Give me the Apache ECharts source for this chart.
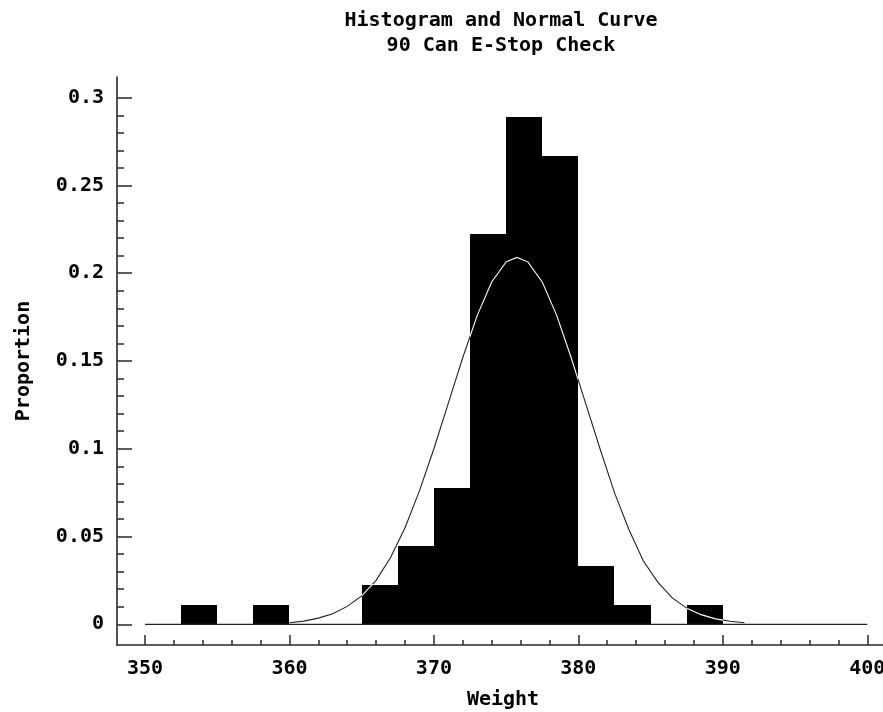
<!DOCTYPE html>
<html><head><meta charset="utf-8">
<script src="https://cdn.jsdelivr.net/npm/echarts@6/dist/echarts.min.js"></script>
<style>html,body{margin:0;padding:0;background:#fff}#c{width:883px;height:712px}</style>
</head><body><div id="c"></div>
<script>
// Histogram bins (Weight) and proportions
const binLow  = [352.5, 357.5, 365, 367.5, 370, 372.5, 375, 377.5, 380, 382.5, 387.5];
const binHigh = [355, 360, 367.5, 370, 372.5, 375, 377.5, 380, 382.5, 385, 390];
const proportion = [0.0111, 0.0111, 0.0222, 0.0444, 0.0778, 0.2222, 0.2889, 0.2667, 0.0333, 0.0111, 0.0111];

// Normal curve
const curveX = [360, 361, 362, 363, 364, 365, 366, 367, 368, 369, 370, 371, 372, 373, 374, 375, 375.75,
                376.5, 377.5, 378.5, 379.5, 380.5, 381.5, 382.5, 383.5, 384.5, 385.5, 386.5, 387.5, 388.5, 389.5, 390.5, 391.5];
const curveY = [0.0009, 0.0018, 0.0035, 0.006, 0.0102, 0.0162, 0.025, 0.038, 0.055, 0.076, 0.1, 0.126, 0.152, 0.176, 0.195, 0.2065, 0.209,
                0.2065, 0.195, 0.176, 0.152, 0.126, 0.1, 0.075, 0.054, 0.036, 0.024, 0.015, 0.0092, 0.0055, 0.0031, 0.0017, 0.0009];

// Axis ticks
const xMajorTicks = [350, 360, 370, 380, 390, 400];
const xMinorTicks = [352, 354, 356, 358, 362, 364, 366, 368, 372, 374, 376, 378, 382, 384, 386, 388, 392, 394, 396, 398];
const yMajorTicks = [0, 0.05, 0.1, 0.15, 0.2, 0.25, 0.3];
const yMinorTicks = [0.01, 0.02, 0.03, 0.04, 0.06, 0.07, 0.08, 0.09, 0.11, 0.12, 0.13, 0.14, 0.16, 0.17, 0.18, 0.19,
                     0.21, 0.22, 0.23, 0.24, 0.26, 0.27, 0.28, 0.29];
const baselineX = [350, 400];

const FONT = 'DejaVu Sans Mono';
const txt = {fontFamily: FONT, fontSize: 20, fontWeight: 'bold', color: '#000'};
const AX = '#2a2a2a';
const X_MIN = 348.062, X_MAX = 401.09, Y_MIN = -0.0118, Y_MAX = 0.3118;

function curvePoints(api) {
  return curveX.map((x, i) => api.coord([x, curveY[i]]));
}

const chart = echarts.init(document.getElementById('c'), null, {renderer: 'canvas'});
chart.setOption({
  animation: false,
  backgroundColor: '#fff',
  title: {
    text: 'Histogram and Normal Curve\n90 Can E-Stop Check',
    left: 501, top: 8, padding: 0, textAlign: 'center',
    textStyle: Object.assign({}, txt, {lineHeight: 25})
  },
  grid: {left: 117, top: 77, right: 0, bottom: 67, containLabel: false, outerBoundsMode: 'none'},
  xAxis: [{
    type: 'value', min: X_MIN, max: X_MAX, position: 'bottom',
    axisLine: {onZero: false, lineStyle: {color: AX, width: 1.6}},
    axisTick: {inside: true, length: 10, customValues: xMajorTicks, lineStyle: {color: AX, width: 1.5}},
    axisLabel: Object.assign({customValues: xMajorTicks, margin: 14}, txt),
    splitLine: {show: false},
    name: 'Weight', nameLocation: 'middle', nameGap: 45,
    nameTextStyle: Object.assign({padding: [0, 0, 0, 6]}, txt)
  }, {
    type: 'value', min: X_MIN, max: X_MAX, position: 'bottom', gridIndex: 0,
    axisLine: {show: false, onZero: false},
    axisTick: {inside: true, length: 5, customValues: xMinorTicks, lineStyle: {color: AX, width: 1.5}},
    axisLabel: {show: false}, splitLine: {show: false}
  }],
  yAxis: [{
    type: 'value', min: Y_MIN, max: Y_MAX, position: 'left',
    axisLine: {show: true, onZero: false, lineStyle: {color: AX, width: 1.6}},
    axisTick: {show: true, inside: true, length: 15, customValues: yMajorTicks, lineStyle: {color: AX, width: 1.5}},
    axisLabel: Object.assign({customValues: yMajorTicks, margin: 13, formatter: v => String(v)}, txt),
    splitLine: {show: false},
    name: 'Proportion', nameLocation: 'middle', nameRotate: 90, nameGap: 83,
    nameTextStyle: txt
  }, {
    type: 'value', min: Y_MIN, max: Y_MAX, position: 'left', gridIndex: 0,
    axisLine: {show: false, onZero: false},
    axisTick: {show: true, inside: true, length: 7, customValues: yMinorTicks, lineStyle: {color: AX, width: 1.5}},
    axisLabel: {show: false}, splitLine: {show: false}
  }],
  series: [{
    // normal curve, dark where it runs over the white background
    type: 'custom', xAxisIndex: 0, yAxisIndex: 0, z: 1,
    data: [[curveX[16], curveY[16]]],
    encode: {x: 0, y: 1},
    renderItem: (params, api) => ({
      type: 'polyline', shape: {points: curvePoints(api)},
      style: {stroke: '#222', fill: null, lineWidth: 1.1}
    })
  }, {
    // histogram bars, with the curve shown white inside each bar
    type: 'custom', xAxisIndex: 0, yAxisIndex: 0, z: 2,
    data: binLow.map((l, i) => [l, binHigh[i], proportion[i]]),
    encode: {x: [0, 1], y: 2},
    renderItem: (params, api) => {
      const p0 = api.coord([api.value(0), api.value(2)]);
      const p1 = api.coord([api.value(1), 0]);
      const x0 = Math.round(p0[0]), x1 = Math.round(p1[0]);
      const y0 = Math.round(p0[1]), y1 = p1[1];
      const r = {x: x0, y: y0, width: x1 - x0, height: y1 - y0};
      return {type: 'group', children: [
        {type: 'rect', shape: r, style: {fill: '#000'}},
        {type: 'polyline', shape: {points: curvePoints(api)},
         style: {stroke: '#fff', fill: null, lineWidth: 1.1},
         clipPath: {type: 'rect', shape: {x: r.x, y: r.y - 1, width: r.width, height: r.height + 1}}}
      ]};
    }
  }, {
    type: 'line', xAxisIndex: 0, yAxisIndex: 0, z: 4,
    data: baselineX.map(x => [x, 0]),
    symbol: 'none', silent: true,
    lineStyle: {color: '#222', width: 1.2}
  }]
});
</script></body></html>
